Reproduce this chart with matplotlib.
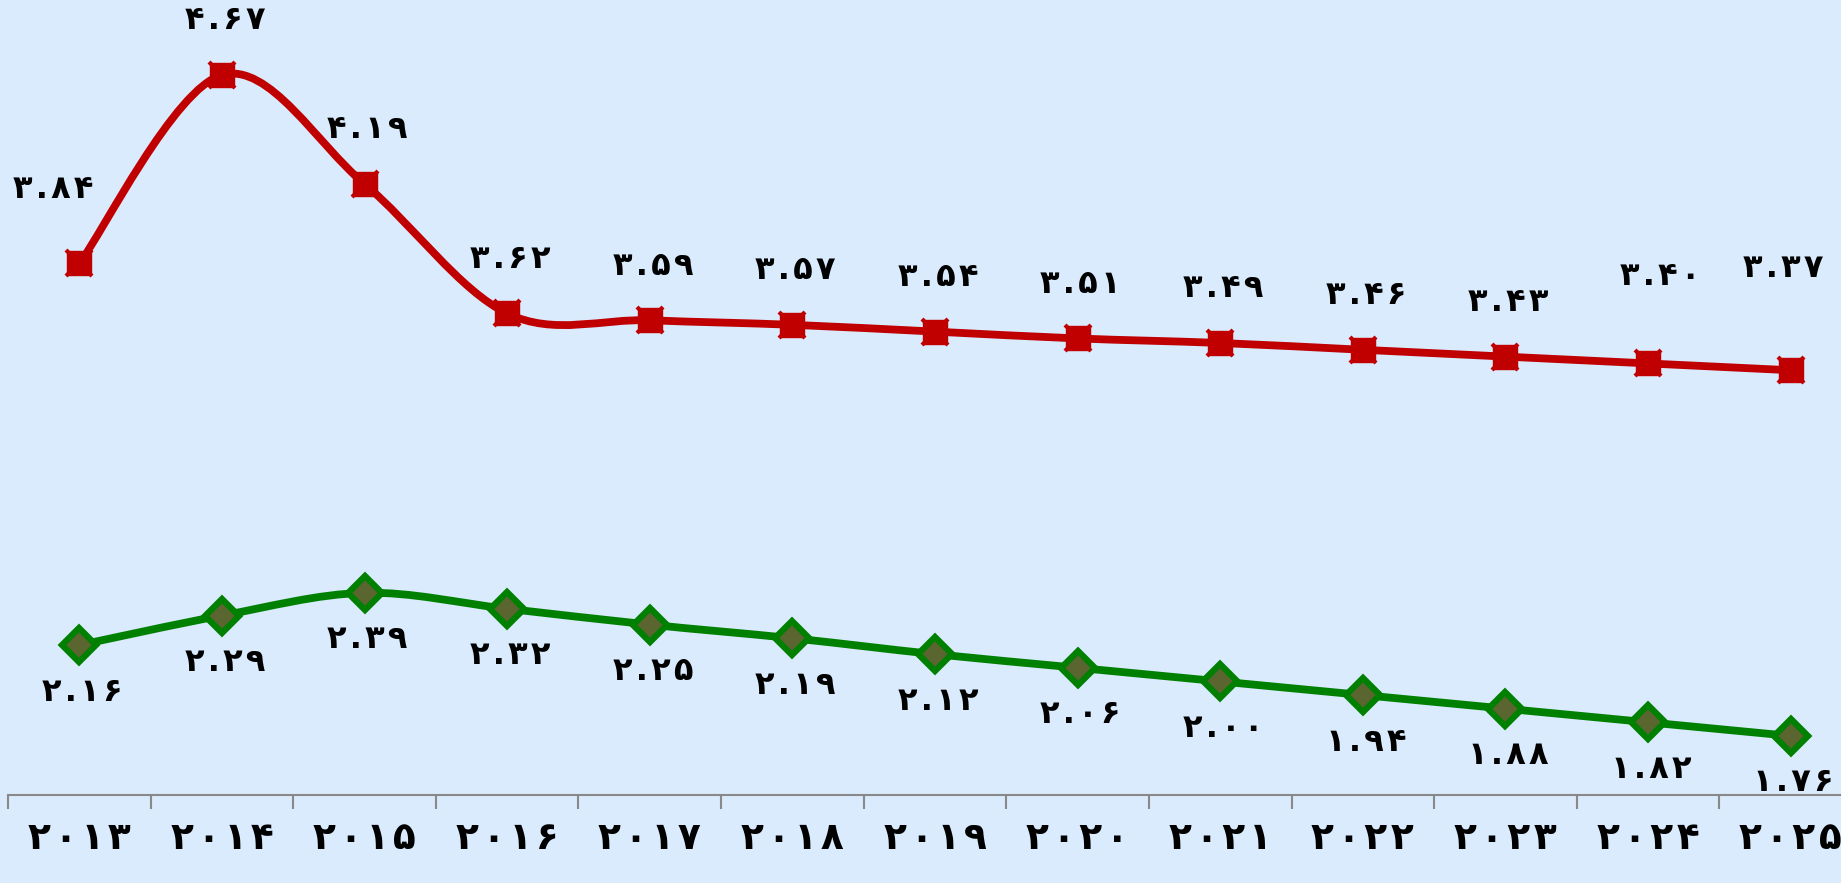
import numpy as np
import matplotlib
matplotlib.use('Agg')
import matplotlib.pyplot as plt
from matplotlib.path import Path
from matplotlib.patches import PathPatch

plt.rcParams['font.family'] = ['DejaVu Sans']

years = ['۲۰۱۳', '۲۰۱۴', '۲۰۱۵', '۲۰۱۶', '۲۰۱۷', '۲۰۱۸', '۲۰۱۹',
         '۲۰۲۰', '۲۰۲۱', '۲۰۲۲', '۲۰۲۳', '۲۰۲۴', '۲۰۲۵']
red_vals = [3.84, 4.67, 4.19, 3.62, 3.59, 3.57, 3.54, 3.51, 3.49, 3.46, 3.43, 3.40, 3.37]
green_vals = [2.16, 2.29, 2.39, 2.32, 2.25, 2.19, 2.12, 2.06, 2.00, 1.94, 1.88, 1.82, 1.76]

# label offsets in pixels (dx, dy)
red_off = [(3, 54)] * 13
red_off[0] = (-26, 74)
red_off[11] = (12, 87)
red_off[12] = (-8, 102)
green_off = [(3, -47)] * 13

BG = '#DAEBFD'
RED = '#C00000'
GREEN = '#008000'

persian = str.maketrans('0123456789', '۰۱۲۳۴۵۶۷۸۹')
SP = '\u200a'


def spaced(s):
    return SP.join(s)


def fmt(v):
    return spaced(('%.2f' % v).translate(persian))


def smooth_path(x, y):
    # catmull-rom style bezier, like the spreadsheet "smoothed line"
    pts = np.column_stack([x, y]).astype(float)
    n = len(pts)
    verts = [pts[0]]
    codes = [Path.MOVETO]
    for i in range(n - 1):
        p0 = pts[max(i - 1, 0)]
        p1 = pts[i]
        p2 = pts[i + 1]
        p3 = pts[min(i + 2, n - 1)]
        c1 = p1 + (p2 - p0) / 6.0
        c2 = p2 - (p3 - p1) / 6.0
        verts += [c1, c2, p2]
        codes += [Path.CURVE4] * 3
    return Path(verts, codes)


fig = plt.figure(figsize=(18.41, 8.83), dpi=100, facecolor=BG)
ax = fig.add_axes([8 / 1841, 1 - 795 / 883, 1854 / 1841, 795 / 883])
ax.set_facecolor(BG)

x = np.arange(len(years))

for vals, col in [(red_vals, RED), (green_vals, GREEN)]:
    ax.add_patch(PathPatch(smooth_path(x, vals), facecolor='none', edgecolor=col,
                           lw=5.6, capstyle='round', joinstyle='round', zorder=2))

ax.plot(x, red_vals, ls='none', marker='s', ms=17, color=RED, zorder=3)
ax.plot(x, red_vals, ls='none', marker='x', ms=19, mew=3, color=RED, zorder=3)
ax.plot(x, green_vals, ls='none', marker='D', ms=17, mfc='#5A6530', mec=GREEN,
        mew=4.5, zorder=3)

for i, v in enumerate(red_vals):
    ax.annotate(fmt(v), (x[i], v), xytext=red_off[i], textcoords='offset pixels',
                ha='center', va='center', fontsize=23, fontweight='bold', color='black')
for i, v in enumerate(green_vals):
    ax.annotate(fmt(v), (x[i], v), xytext=green_off[i], textcoords='offset pixels',
                ha='center', va='center', fontsize=23, fontweight='bold', color='black')

ax.set_xlim(-0.5, len(years) - 0.5)
ax.set_ylim(1.5, 5.0)

for s in ['left', 'right', 'top']:
    ax.spines[s].set_visible(False)
ax.spines['bottom'].set_color('#898989')
ax.spines['bottom'].set_linewidth(1.5)

ax.set_yticks([])
ax.set_xticks(x)
ax.set_xticklabels([spaced(y) for y in years], fontsize=27, fontweight='bold')
ax.set_xticks(np.arange(-0.5, len(years) + 0.5, 1), minor=True)
ax.tick_params(axis='x', which='major', length=0, pad=19)
ax.tick_params(axis='x', which='minor', length=10, width=1.5, color='#898989')

fig.savefig('out.png', dpi=100, facecolor=BG)
